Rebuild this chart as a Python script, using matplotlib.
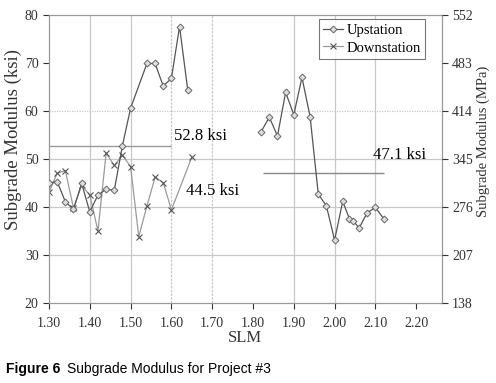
import matplotlib
matplotlib.use("Agg")
import matplotlib.pyplot as plt
from matplotlib.ticker import FixedLocator, FormatStrFormatter

plt.rcParams['font.family'] = ['Liberation Serif', 'DejaVu Serif']

# Upstation data (SLM, ksi)
up_x = [1.30, 1.32, 1.34, 1.36, 1.38, 1.40, 1.42, 1.44, 1.46, 1.48, 1.50,
        1.54, 1.56, 1.58, 1.60, 1.62, 1.64,
        None,
        1.82, 1.84, 1.86, 1.88, 1.90, 1.92, 1.94, 1.96, 1.98, 2.00, 2.02,
        2.036, 2.046, 2.06, 2.08, 2.10, 2.12]
up_y = [45.0, 45.3, 41.1, 39.5, 44.9, 39.0, 42.5, 43.7, 43.5, 52.8, 60.6,
        69.9, 69.9, 65.2, 66.8, 77.6, 64.4,
        None,
        55.7, 58.7, 54.8, 63.9, 59.2, 67.0, 58.8, 42.7, 40.2, 33.1, 41.2,
        37.6, 37.1, 35.6, 38.8, 39.9, 37.6]

# Downstation data (SLM, ksi)
down_x = [1.30, 1.32, 1.34, 1.36, 1.38, 1.40, 1.42, 1.44, 1.46, 1.48, 1.50,
          1.52, 1.54, 1.56, 1.58, 1.60, 1.65]
down_y = [43.1, 47.0, 47.6, 39.8, 44.5, 42.5, 35.0, 51.2, 48.7, 50.8, 48.4,
          33.8, 40.2, 46.2, 45.1, 39.4, 50.4]

# Average lines
avg_labels = ["52.8 ksi", "44.5 ksi", "47.1 ksi"]
avg_values = [52.8, 44.5, 47.1]

x_ticks = [1.30, 1.40, 1.50, 1.60, 1.70, 1.80, 1.90, 2.00, 2.10, 2.20]
y_ticks = [20, 30, 40, 50, 60, 70, 80]
mpa_labels = ["138", "207", "276", "345", "414", "483", "552"]


def seg(xs, ys):
    out = []
    cx, cy = [], []
    for a, b in zip(xs, ys):
        if a is None:
            out.append((cx, cy)); cx, cy = [], []
        else:
            cx.append(a); cy.append(b)
    out.append((cx, cy))
    return out


fig = plt.figure(figsize=(4.96, 3.83), dpi=100)
ax = fig.add_axes([0.0988, 0.2089, 0.7917, 0.7519])
ax.set_xlim(1.30, 2.2625)
ax.set_ylim(20, 80)

grid_c = "#c8c8c8"
for xv in [1.40, 1.50, 1.90, 2.00, 2.10]:
    ax.axvline(xv, color=grid_c, lw=0.9, zorder=0)
for xv in [1.60, 1.70]:
    ax.axvline(xv, color=grid_c, lw=0.9, ls=(0, (2, 1)), zorder=0)
for yv in [30, 40, 50]:
    ax.axhline(yv, color=grid_c, lw=0.9, zorder=0)
ax.axhline(60, color=grid_c, lw=0.9, ls=(0, (1, 1)), zorder=0)

first = True
for sx, sy in seg(up_x, up_y):
    ax.plot(sx, sy, color="#555555", lw=0.9, marker="D", ms=3.5,
            mfc="#dddddd", mec="#666666", mew=0.7,
            label="Upstation" if first else None, zorder=3)
    first = False
ax.plot(down_x, down_y, color="#9a9a9a", lw=0.9, marker="x", ms=4,
        mec="#555555", mew=0.8, label="Downstation", zorder=2)

# average lines
ax.hlines(avg_values[0], 1.30, 1.60, color="#999999", lw=1.0, zorder=1)
ax.hlines(avg_values[2], 1.825, 2.12, color="#888888", lw=1.0, zorder=1)
ax.text(1.67, 53.2, avg_labels[0], fontsize=12, ha="center", va="bottom")
ax.text(1.70, 43.3, avg_labels[1], fontsize=12, ha="center", va="center")
ax.text(2.16, 49.2, avg_labels[2], fontsize=12, ha="center", va="bottom")

ax.xaxis.set_major_locator(FixedLocator(x_ticks))
ax.xaxis.set_major_formatter(FormatStrFormatter("%.2f"))
ax.set_yticks(y_ticks)
ax.tick_params(axis="both", labelsize=10, colors="#333333", length=4,
               direction="out", width=0.8)
ax.tick_params(axis="x", pad=6)
ax.set_xlabel("SLM", fontsize=12, labelpad=0, color="#333333")
ax.set_ylabel("Subgrade Modulus (ksi)", fontsize=13.5, color="#333333")
ax.yaxis.set_label_coords(-0.07, 0.569)

for sp in ax.spines.values():
    sp.set_color("#999999")
    sp.set_linewidth(0.9)

ax2 = ax.twinx()
ax2.set_ylim(20, 80)
ax2.set_yticks(y_ticks)
ax2.set_yticklabels(mpa_labels)
ax2.tick_params(axis="y", labelsize=10, colors="#333333", length=4, width=0.8)
ax2.set_ylabel("Subgrade Modulus (MPa)", fontsize=10.5, color="#333333")
ax2.yaxis.set_label_coords(1.088, 0.5625)
for sp in ax2.spines.values():
    sp.set_visible(False)

leg = ax.legend(loc="upper right", bbox_to_anchor=(0.965, 0.995), fontsize=10.5,
                frameon=True, fancybox=False, borderpad=0.3, handlelength=1.4,
                handletextpad=0.2, labelspacing=0.3, borderaxespad=0.2)
leg.get_frame().set_edgecolor("#555555")
leg.get_frame().set_linewidth(0.8)

fig.text(0.012, 0.027, "Figure 6", fontsize=10, fontweight="bold",
         family="Liberation Sans", va="baseline")
fig.text(0.135, 0.027, "Subgrade Modulus for Project #3", fontsize=10,
         family="Liberation Sans", va="baseline")

fig.savefig("out.png", dpi=100)
